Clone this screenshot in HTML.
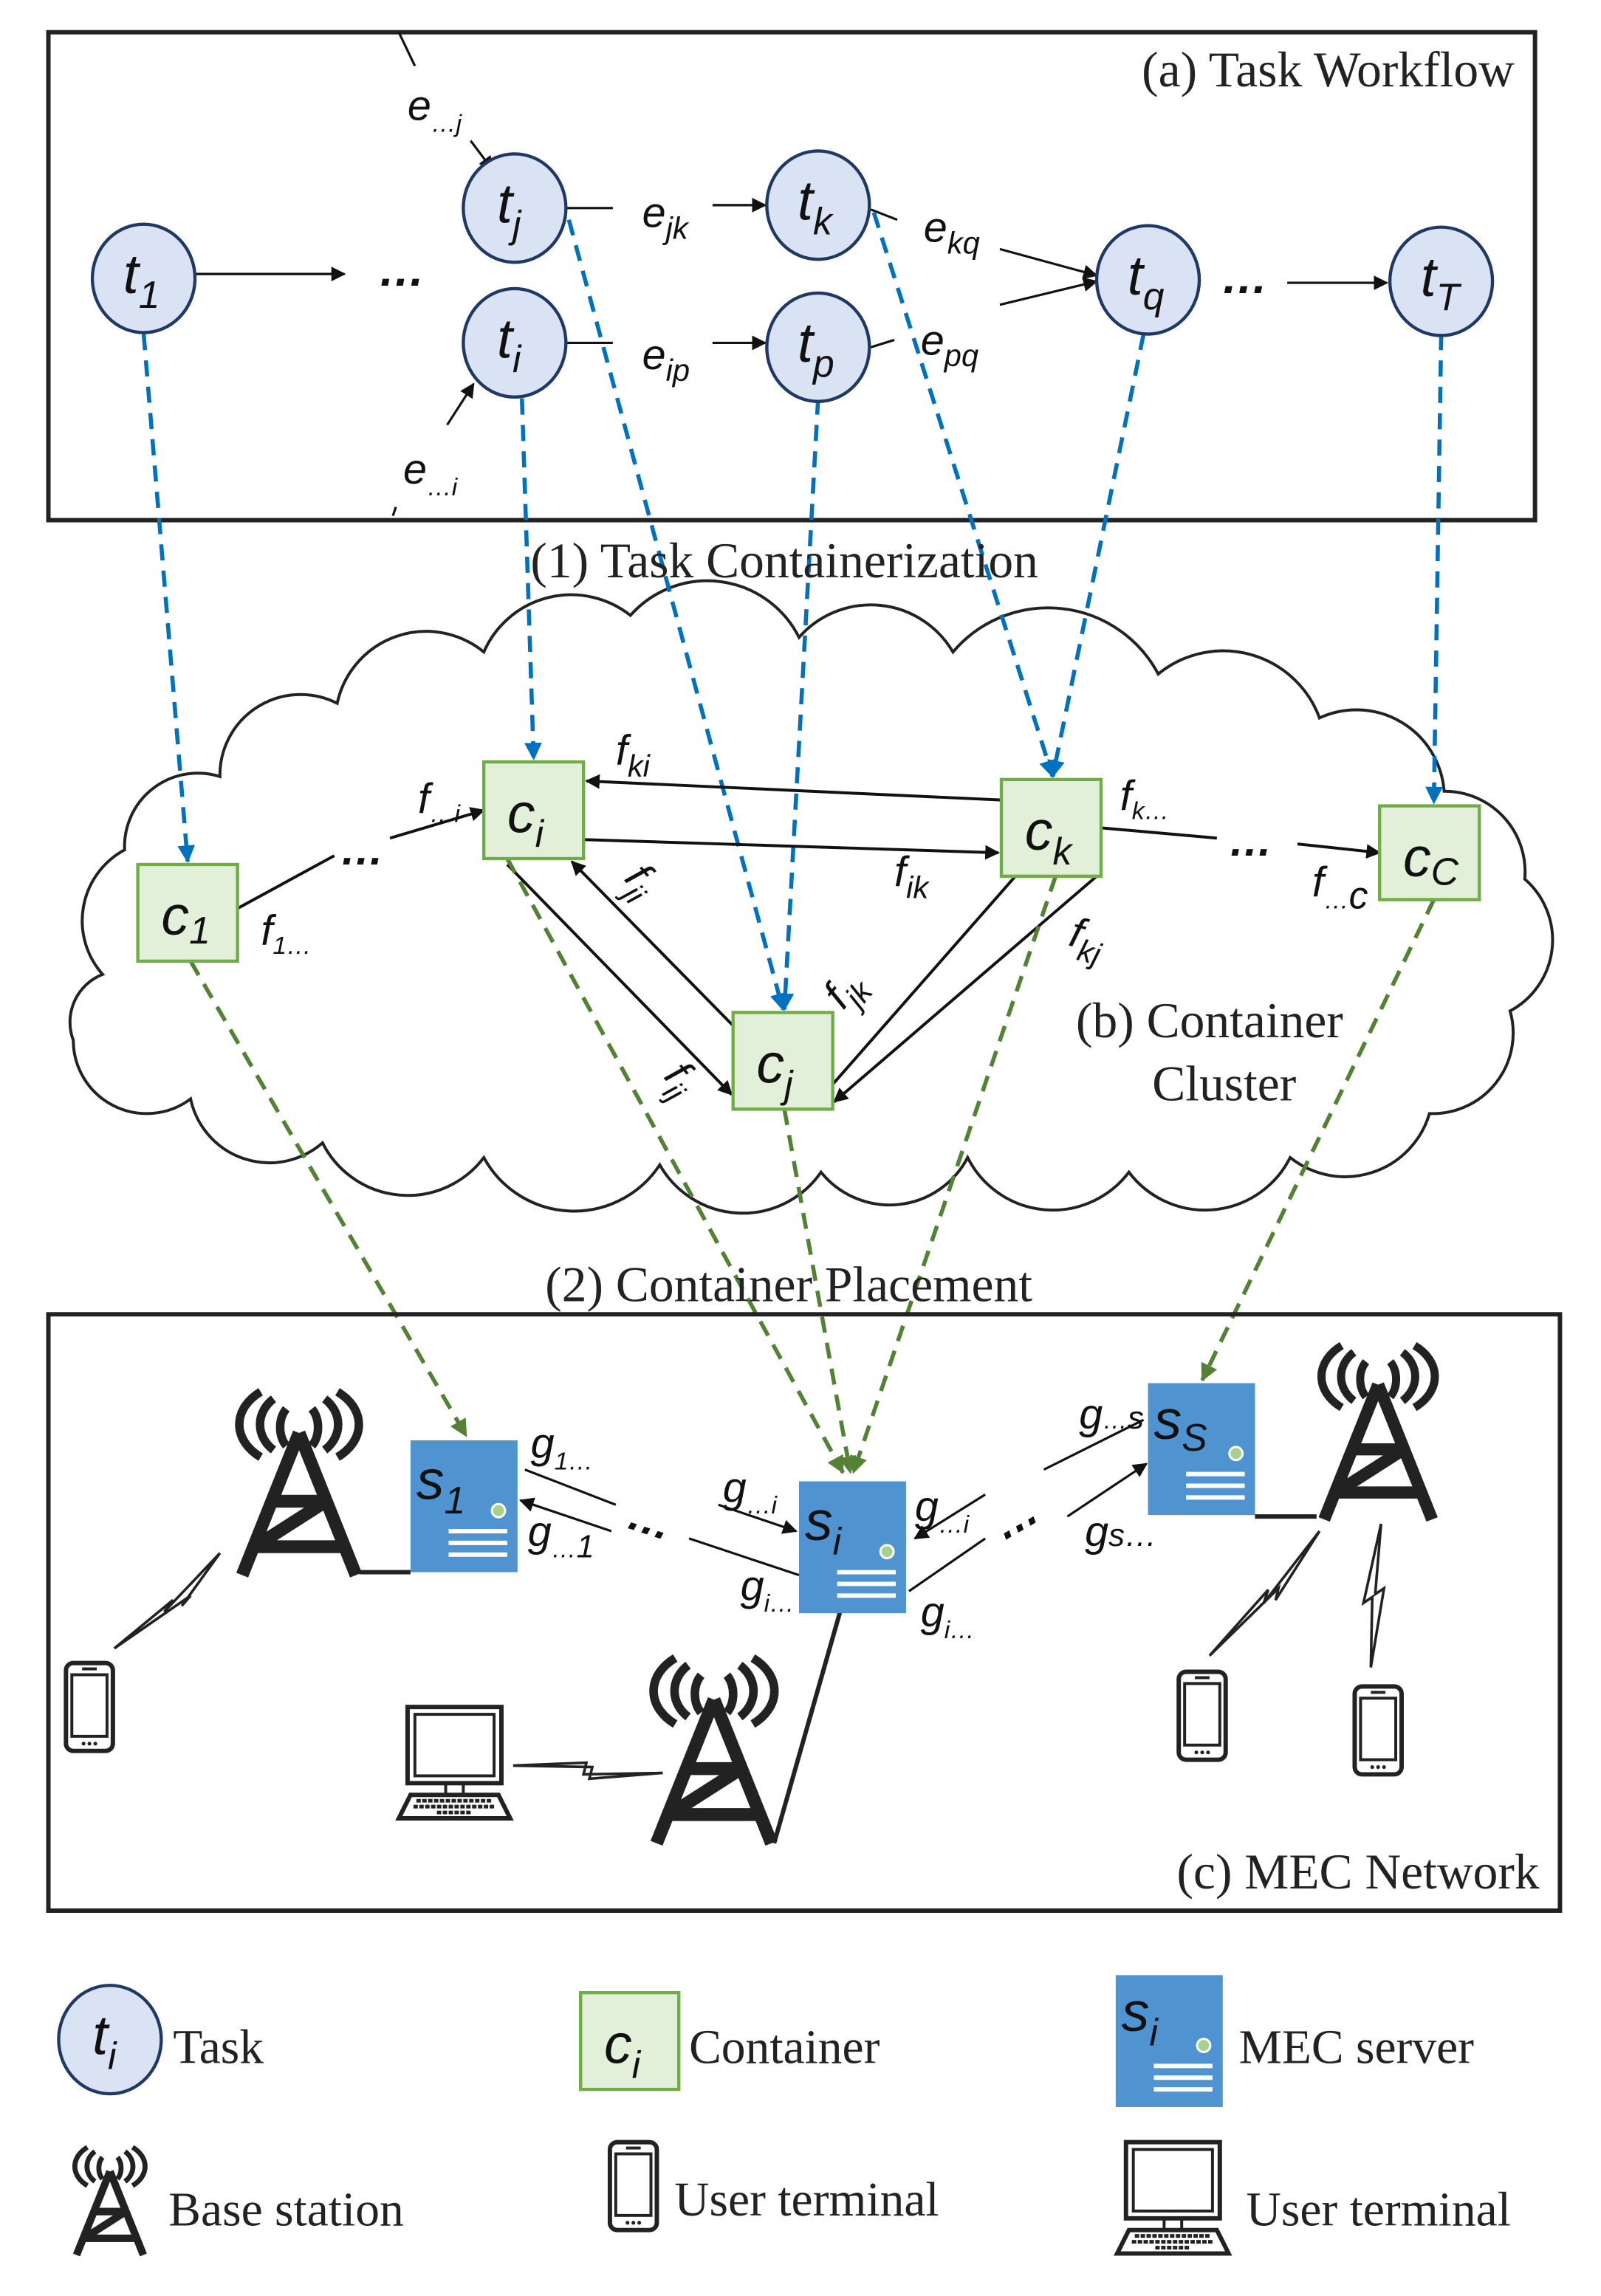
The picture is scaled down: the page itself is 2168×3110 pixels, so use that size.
<!DOCTYPE html>
<html><head><meta charset="utf-8"><style>
html,body{margin:0;padding:0;background:#fff}
svg{display:block}
.n{font-family:"Liberation Sans",sans-serif;font-style:italic;fill:#111}
.t{font-family:"Liberation Serif",serif;fill:#222}
</style></head><body>
<svg width="2168" height="3110" viewBox="0 0 1092 1567" preserveAspectRatio="none" xmlns="http://www.w3.org/2000/svg">
<defs>
<marker id="ak" markerWidth="10" markerHeight="10" refX="9" refY="5" orient="auto" markerUnits="userSpaceOnUse"><path d="M0,0 L10,5 L0,10 z" fill="#111"/></marker>
<marker id="ab" markerWidth="12" markerHeight="12" refX="11" refY="6" orient="auto" markerUnits="userSpaceOnUse"><path d="M0,0 L12,6 L0,12 z" fill="#0070c0"/></marker>
<marker id="ag" markerWidth="12" markerHeight="12" refX="11" refY="6" orient="auto" markerUnits="userSpaceOnUse"><path d="M0,0 L12,6 L0,12 z" fill="#548235"/></marker>
<g id="tower">
<path d="M0,0 L-40,100 M0,0 L40,100 M-19,48 L19,48 M-31,80 L31,80 M19,48 L-31,80" stroke="#222" stroke-width="9" fill="none"/>
<path d="M-9,-17 A14 18 0 0 0 -9,9 M-18,-24 A28 24 0 0 0 -18,12 M-27,-29 A42 30 0 0 0 -27,17 M9,-17 A14 18 0 0 1 9,9 M18,-24 A28 24 0 0 1 18,12 M27,-29 A42 30 0 0 1 27,17" stroke="#222" stroke-width="6" fill="none"/>
</g>
<g id="phone">
<rect x="0" y="0" width="32" height="60" rx="5" fill="#fff" stroke="#222" stroke-width="3"/>
<rect x="4" y="8" width="24" height="42" fill="none" stroke="#222" stroke-width="2"/>
<rect x="11" y="3" width="10" height="2" fill="#222"/>
<circle cx="12" cy="55" r="1.3" fill="#222"/><circle cx="16" cy="55" r="1.3" fill="#222"/><circle cx="20" cy="55" r="1.3" fill="#222"/>
</g>
<g id="laptop">
<rect x="8" y="0" width="64" height="52" fill="#fff" stroke="#222" stroke-width="3"/>
<rect x="13" y="5" width="54" height="42" fill="none" stroke="#222" stroke-width="2"/>
<path d="M34,52 L34,60 M46,52 L46,60" stroke="#222" stroke-width="2"/>
<path d="M10,60 L70,60 L78,76 L2,76 z" fill="#fff" stroke="#222" stroke-width="3"/>
<path d="M14,64 L66,64 M12,68 L68,68 M28,72 L52,72" stroke="#222" stroke-width="2.5" stroke-dasharray="3 1"/>
</g>
<g id="server">
<rect x="0" y="0" width="73" height="90" fill="#4f93d0"/>
<circle cx="60" cy="48" r="4.5" fill="#a9d18e" stroke="#fff" stroke-width="1.5"/>
<path d="M26,62 L66,62 M26,70 L66,70 M26,78 L66,78" stroke="#fff" stroke-width="3"/>
</g>
</defs>

<rect x="33" y="22" width="1014" height="333" fill="none" stroke="#222" stroke-width="3"/>
<text class="t" x="1033" y="59" font-size="34" text-anchor="end">(a) Task Workflow</text>

<path d="M70,665 A55 55 0 0 1 85,580 A50 50 0 0 1 150,530 A55 55 0 0 1 230,480 A62 62 0 0 1 330,445 A65 65 0 0 1 430,420 A70 70 0 0 1 545,435 A65 65 0 0 1 650,445 A85 85 0 0 1 790,460 A70 70 0 0 1 900,490 A60 60 0 0 1 985,540 A55 55 0 0 1 1040,600 A55 55 0 0 1 1030,690 A55 55 0 0 1 975,760 A60 60 0 0 1 880,790 A65 65 0 0 1 770,800 A65 65 0 0 1 660,790 A60 60 0 0 1 560,800 A65 65 0 0 1 450,795 A70 70 0 0 1 330,790 A65 65 0 0 1 220,780 A55 55 0 0 1 130,750 A50 50 0 0 1 50,710 A35 35 0 0 1 70,665 z" fill="#fff" stroke="#222" stroke-width="2"/>

<g stroke="#111" stroke-width="1.6" fill="none">
<line x1="133" y1="187" x2="235" y2="187" marker-end="url(#ak)"/>
<line x1="386" y1="142" x2="418" y2="142"/>
<line x1="486" y1="140" x2="522" y2="140" marker-end="url(#ak)"/>
<line x1="386" y1="234" x2="418" y2="234"/>
<line x1="486" y1="234" x2="522" y2="234" marker-end="url(#ak)"/>
<line x1="594" y1="143" x2="612" y2="150"/>
<line x1="682" y1="170" x2="748" y2="188" marker-end="url(#ak)"/>
<line x1="594" y1="237" x2="610" y2="232"/>
<line x1="682" y1="208" x2="748" y2="192" marker-end="url(#ak)"/>
<line x1="878" y1="193" x2="946" y2="193" marker-end="url(#ak)"/>
<line x1="272" y1="22" x2="283" y2="45"/>
<line x1="321" y1="96" x2="336" y2="116" marker-end="url(#ak)"/>
<line x1="305" y1="290" x2="323" y2="262" marker-end="url(#ak)"/>
<line x1="268" y1="352" x2="270" y2="346"/>
</g>
<text class="n" x="258" y="195" font-size="32" font-weight="bold">…</text>
<text class="n" x="833" y="200" font-size="32" font-weight="bold">…</text>
<g class="n" font-size="29">
<text x="278" y="82">e<tspan font-size="17" dy="8">…j</tspan></text>
<text x="275" y="330">e<tspan font-size="17" dy="8">…i</tspan></text>
<text x="438" y="155">e<tspan font-size="21" dy="8">jk</tspan></text>
<text x="438" y="252">e<tspan font-size="21" dy="8">ip</tspan></text>
<text x="630" y="165">e<tspan font-size="21" dy="8">kq</tspan></text>
<text x="628" y="242">e<tspan font-size="21" dy="8">pq</tspan></text>
</g>

<g stroke="#0070c0" stroke-width="2.8" stroke-dasharray="11 7" fill="none">
<line x1="98" y1="228" x2="128" y2="588" marker-end="url(#ab)"/>
<line x1="356" y1="272" x2="364" y2="518" marker-end="url(#ab)"/>
<line x1="388" y1="150" x2="534" y2="689" marker-end="url(#ab)"/>
<line x1="558" y1="272" x2="535" y2="689" marker-end="url(#ab)"/>
<line x1="596" y1="145" x2="718" y2="530" marker-end="url(#ab)"/>
<line x1="780" y1="228" x2="718" y2="530" marker-end="url(#ab)"/>
<line x1="983" y1="228" x2="978" y2="548" marker-end="url(#ab)"/>
</g>

<g fill="#dae3f3" stroke="#1f3864" stroke-width="2.2">
<ellipse cx="98" cy="190" rx="35" ry="37"/>
<ellipse cx="351" cy="142" rx="35" ry="37"/>
<ellipse cx="351" cy="234" rx="35" ry="37"/>
<ellipse cx="558" cy="140" rx="35" ry="37"/>
<ellipse cx="558" cy="237" rx="35" ry="37"/>
<ellipse cx="783" cy="191" rx="35" ry="37"/>
<ellipse cx="983" cy="192" rx="35" ry="37"/>
<ellipse cx="75" cy="1392" rx="35" ry="37"/>
</g>
<g class="n" font-size="38">
<text x="84" y="200">t<tspan font-size="26" dy="10">1</tspan></text>
<text x="339" y="152">t<tspan font-size="26" dy="10">j</tspan></text>
<text x="339" y="244">t<tspan font-size="26" dy="10">i</tspan></text>
<text x="544" y="150">t<tspan font-size="26" dy="10">k</tspan></text>
<text x="544" y="247">t<tspan font-size="26" dy="10">p</tspan></text>
<text x="769" y="201">t<tspan font-size="26" dy="10">q</tspan></text>
<text x="969" y="202">t<tspan font-size="26" dy="10">T</tspan></text>
<text x="63" y="1402">t<tspan font-size="26" dy="10">i</tspan></text>
</g>

<text class="t" x="535" y="394" font-size="34" text-anchor="middle">(1) Task Containerization</text>

<g stroke="#111" stroke-width="2" fill="none">
<line x1="162" y1="620" x2="228" y2="584"/>
<line x1="266" y1="572" x2="330" y2="553" marker-end="url(#ak)"/>
<line x1="683" y1="546" x2="400" y2="533" marker-end="url(#ak)"/>
<line x1="398" y1="573" x2="681" y2="582" marker-end="url(#ak)"/>
<line x1="751" y1="565" x2="830" y2="572"/>
<line x1="885" y1="576" x2="941" y2="582" marker-end="url(#ak)"/>
<line x1="346" y1="590" x2="499" y2="747" marker-end="url(#ak)"/>
<line x1="500" y1="700" x2="390" y2="588" marker-end="url(#ak)"/>
<line x1="568" y1="740" x2="718" y2="569" marker-end="url(#ak)"/>
<line x1="748" y1="598" x2="569" y2="752" marker-end="url(#ak)"/>
</g>
<text class="n" x="232" y="590" font-size="30" font-weight="bold">…</text>
<text class="n" x="838" y="584" font-size="30" font-weight="bold">…</text>
<g class="n" font-size="29">
<text x="285" y="555">f<tspan font-size="17" dy="6">…i</tspan></text>
<text x="420" y="522">f<tspan font-size="21" dy="8">ki</tspan></text>
<text x="178" y="645">f<tspan font-size="17" dy="6">1…</tspan></text>
<text x="610" y="605">f<tspan font-size="21" dy="8">ik</tspan></text>
<text x="764" y="553">f<tspan font-size="17" dy="6">k…</tspan></text>
<text x="895" y="612">f<tspan font-size="17" dy="8">…</tspan><tspan font-size="26">c</tspan></text>
<text x="728" y="645" transform="rotate(15 728 645)">f<tspan font-size="21" dy="8">kj</tspan></text>
<text x="575" y="690" transform="rotate(-50 575 690)">f<tspan font-size="21" dy="8">jk</tspan></text>
<text x="425" y="600" transform="rotate(50 425 600)">f<tspan font-size="21" dy="8">ji</tspan></text>
<text x="452" y="735" transform="rotate(50 452 735)">f<tspan font-size="21" dy="8">ij</tspan></text>
</g>
<text class="t" x="825" y="708" font-size="34" text-anchor="middle">(b) Container</text>
<text class="t" x="835" y="751" font-size="34" text-anchor="middle">Cluster</text>

<g stroke="#548235" stroke-width="2.8" stroke-dasharray="11 7" fill="none">
<line x1="130" y1="656" x2="318" y2="980" marker-end="url(#ag)"/>
<line x1="346" y1="586" x2="575" y2="1005" marker-end="url(#ag)"/>
<line x1="535" y1="757" x2="580" y2="1005" marker-end="url(#ag)"/>
<line x1="720" y1="598" x2="582" y2="1005" marker-end="url(#ag)"/>
<line x1="978" y1="614" x2="820" y2="942" marker-end="url(#ag)"/>
</g>

<g fill="#e2f0d9" stroke="#70ad47" stroke-width="2.2">
<rect x="94" y="590" width="68" height="66"/>
<rect x="330" y="520" width="68" height="66"/>
<rect x="683" y="532" width="68" height="66"/>
<rect x="500" y="691" width="68" height="66"/>
<rect x="941" y="550" width="68" height="64"/>
<rect x="396" y="1360" width="67" height="66"/>
</g>
<g class="n" font-size="38">
<text x="110" y="638">c<tspan font-size="26" dy="6">1</tspan></text>
<text x="346" y="568">c<tspan font-size="26" dy="10">i</tspan></text>
<text x="699" y="580">c<tspan font-size="26" dy="10">k</tspan></text>
<text x="516" y="739">c<tspan font-size="26" dy="10">j</tspan></text>
<text x="957" y="598">c<tspan font-size="26" dy="6">C</tspan></text>
<text x="412" y="1408">c<tspan font-size="26" dy="10">i</tspan></text>
</g>

<text class="t" x="538" y="888" font-size="34" text-anchor="middle">(2) Container Placement</text>

<rect x="33" y="897" width="1031" height="407" fill="none" stroke="#222" stroke-width="3"/>
<text class="t" x="1050" y="1289" font-size="34" text-anchor="end">(c) MEC Network</text>

<g stroke="#222" stroke-width="3" fill="none">
<path d="M245,1073 L280,1073"/>
<path d="M856,1035 L898,1035"/>
<path d="M573,1100 L528,1258"/>
</g>
<g stroke="#222" stroke-width="1.8" fill="#fff">
<path d="M78,1125 L118,1092 L112,1100 L150,1060 L124,1096 L130,1089 z"/>
<path d="M350,1205 L400,1203 L398,1211 L452,1210 L402,1214 L404,1206 z"/>
<path d="M825,1130 L865,1085 L862,1094 L900,1045 L870,1092 L872,1084 z"/>
<path d="M935,1138 L936,1090 L930,1094 L942,1040 L938,1088 L944,1084 z"/>
</g>

<use href="#tower" transform="translate(204,978) scale(0.97)"/>
<use href="#tower" transform="translate(487,1160) scale(0.98)"/>
<use href="#tower" transform="translate(940,945) scale(0.92)"/>
<use href="#tower" transform="translate(75,1482) scale(0.57)"/>

<use href="#phone" transform="translate(45,1135)"/>
<use href="#phone" transform="translate(804,1141)"/>
<use href="#phone" transform="translate(924,1151)"/>
<use href="#phone" transform="translate(416,1462)"/>
<use href="#laptop" transform="translate(270,1165)"/>
<use href="#laptop" transform="translate(760,1462)"/>

<use href="#server" transform="translate(280,983)"/>
<use href="#server" transform="translate(545,1011)"/>
<use href="#server" transform="translate(783,944)"/>
<use href="#server" transform="translate(761,1348)"/>
<g class="n" font-size="38" fill="#111">
<text x="284" y="1023">s<tspan font-size="26" dy="10">1</tspan></text>
<text x="549" y="1051">s<tspan font-size="26" dy="10">i</tspan></text>
<text x="787" y="982">s<tspan font-size="26" dy="8">S</tspan></text>
<text x="765" y="1386">s<tspan font-size="26" dy="10">i</tspan></text>
</g>

<g stroke="#111" stroke-width="1.6" fill="none">
<line x1="358" y1="1003" x2="420" y2="1027"/>
<line x1="417" y1="1045" x2="355" y2="1024" marker-end="url(#ak)"/>
<line x1="490" y1="1027" x2="543" y2="1045" marker-end="url(#ak)"/>
<line x1="470" y1="1050" x2="545" y2="1075"/>
<line x1="672" y1="1020" x2="624" y2="1050" marker-end="url(#ak)"/>
<line x1="620" y1="1086" x2="672" y2="1050"/>
<line x1="712" y1="1003" x2="780" y2="969"/>
<line x1="728" y1="1035" x2="782" y2="999" marker-end="url(#ak)"/>
</g>
<text class="n" x="428" y="1048" font-size="30" font-weight="bold" transform="rotate(18 445 1040)">…</text>
<text class="n" x="680" y="1045" font-size="30" font-weight="bold" transform="rotate(-30 695 1040)">…</text>
<g class="n" font-size="29">
<text x="362" y="995">g<tspan font-size="17" dy="8">1…</tspan></text>
<text x="360" y="1055">g<tspan font-size="17" dy="8">…</tspan><tspan font-size="22">1</tspan></text>
<text x="493" y="1025">g<tspan font-size="17" dy="8">…i</tspan></text>
<text x="505" y="1092">g<tspan font-size="17" dy="8">i…</tspan></text>
<text x="624" y="1038">g<tspan font-size="17" dy="8">…i</tspan></text>
<text x="628" y="1110">g<tspan font-size="17" dy="8">i…</tspan></text>
<text x="736" y="975">g<tspan font-size="17" dy="0">…</tspan><tspan font-size="22">s</tspan></text>
<text x="740" y="1055">g<tspan font-size="22">s…</tspan></text>
</g>

<g class="t" font-size="33">
<text x="118" y="1408">Task</text>
<text x="470" y="1408">Container</text>
<text x="845" y="1408">MEC server</text>
<text x="115" y="1519">Base station</text>
<text x="460" y="1512">User  terminal</text>
<text x="850" y="1519">User  terminal</text>
</g>
</svg>
</body></html>
